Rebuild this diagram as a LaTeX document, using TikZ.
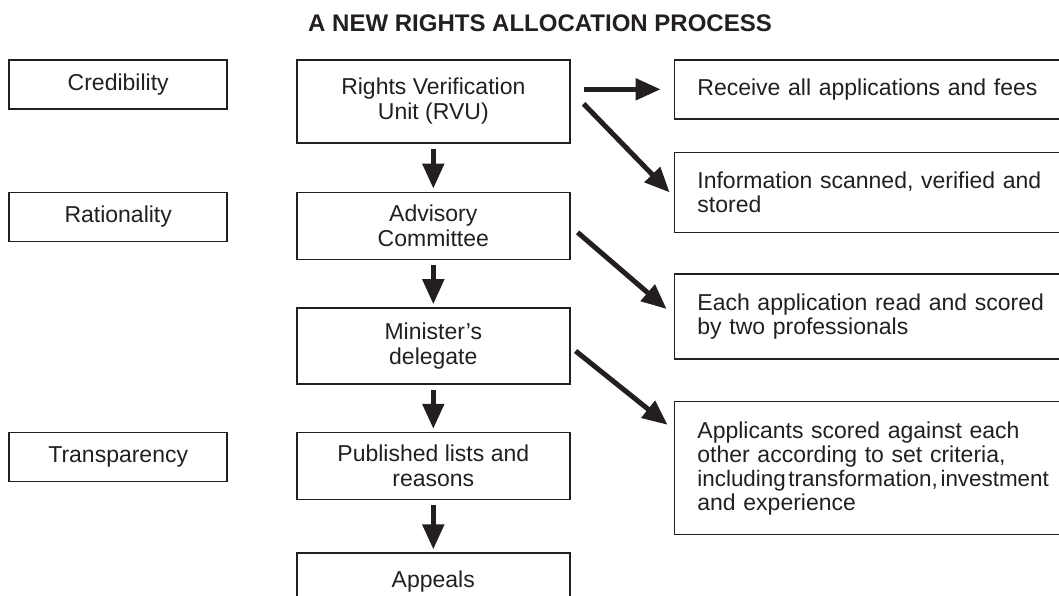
\documentclass[tikz,border=0pt]{standalone}
\usepackage{fontspec}
\setmainfont{Liberation Sans}
\usetikzlibrary{arrows.meta, positioning, calc}
\definecolor{ink}{HTML}{231F20}
\tikzset{
  box/.style={draw=ink, line width=0.8pt, minimum width=136.5pt, align=center, text=ink,
    font=\fontsize{11.5pt}{12.5pt}\selectfont},
  side/.style={draw=ink, line width=0.8pt, minimum width=109pt, minimum height=24.5pt, text=ink,
    font=\fontsize{11.5pt}{12.5pt}\selectfont},
  info/.style={draw=ink, line width=0.8pt, text width=200pt, inner xsep=11.5pt, align=left, text=ink,
    font=\fontsize{11.5pt}{12pt}\selectfont},
  arr/.style={-{Triangle[length=12.5pt, width=10.5pt]}, line width=2.5pt, draw=ink},
  heading/.style={font=\fontsize{12pt}{14pt}\selectfont\bfseries, text=ink},
}
\begin{document}
\begin{tikzpicture}[x=0.5pt, y=-0.5pt, node distance=24pt]
  \useasboundingbox (0,0) rectangle (1059,595);
  \node[heading] (ttl) at (540,23) {A NEW RIGHTS ALLOCATION PROCESS};

  % centre column
  \node[box, minimum height=41.5pt, anchor=north west] (rvu) at (296,59) {Rights Verification\\Unit (RVU)};
  \node[box, minimum height=33.5pt, below=of rvu] (adv) {Advisory\\Committee};
  \node[box, minimum height=38pt, below=23.5pt of adv] (mind) {Minister's\\delegate};
  \node[box, minimum height=33.5pt, below=23.5pt of mind] (pub) {Published lists and\\reasons};
  \node[box, minimum height=28pt, below=26pt of pub] (app) {Appeals};

  % principles on the left
  \node[side, anchor=north east] (cred) at ([xshift=-34pt]rvu.north west) {Credibility};
  \node[side, anchor=north east] (rat) at ([xshift=-34pt]adv.north west) {Rationality};
  \node[side, anchor=north east] (trans) at ([xshift=-34pt]pub.north west) {Transparency};

  % tasks on the right
  \node[info, minimum height=29.5pt, anchor=north west] (recv) at ([xshift=51.5pt]rvu.north east) {Receive all applications and fees};
  \node[info, minimum height=40pt, below=16pt of recv] (scan) {Information scanned, verified and\\stored};
  \node[info, minimum height=42.5pt, below=20pt of scan] (read) {Each application read and scored\\by two professionals};
  \node[info, minimum height=66.5pt, below=20.5pt of read] (score) {Applicants scored against each\\other according to set criteria,\\{\fontsize{11.2pt}{12pt}\selectfont including\hspace{0.12em}transformation,\hspace{0.12em}investment}\\and experience};

  \foreach \a/\b in {rvu/adv, adv/mind, mind/pub, pub/app}
    \draw[arr] ($(\a.south)+(0,5)$) -- ($(\b.north)+(0,-3)$);

  \draw[arr] ($(rvu.east |- recv.west)+(13,0)$) -- ($(recv.west)+(-13,0)$);
  \draw[arr] ($(rvu.east)+(13,2.5)$) -- ($(scan.west)+(-4,0)$);
  \draw[arr] ($(adv.east)+(7,6.5)$) -- ($(read.west)+(-7,-7.5)$);
  \draw[arr] ($(mind.east)+(5,5)$) -- ($(score.north west)+(-6,24)$);
\end{tikzpicture}
\end{document}
